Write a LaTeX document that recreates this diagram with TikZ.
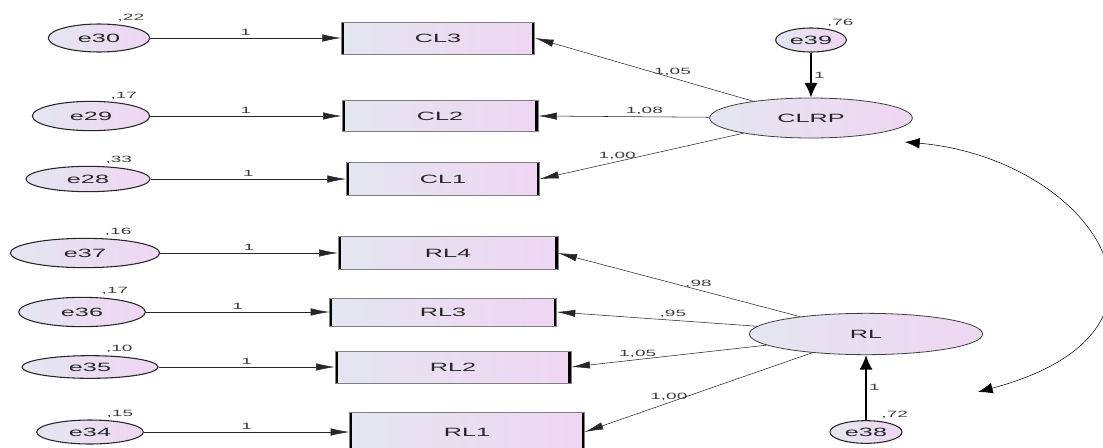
\documentclass[tikz,border=0pt]{standalone}
\usepackage{fontspec}
\newfontfamily\amosfont{Liberation Sans}[FakeStretch=2.1]
\usetikzlibrary{shapes.geometric, arrows.meta}
\definecolor{fillleft}{RGB}{228,230,241}
\definecolor{fillright}{RGB}{239,214,242}
\tikzstyle{errvar} = [ellipse, inner sep=0pt, draw=black!85, thick, left color=fillleft, right color=fillright, text=black!85, font=\amosfont\fontsize{9}{10}\selectfont]
\tikzstyle{latent} = [ellipse, inner sep=0pt, draw=black!75, semithick, left color=fillleft, right color=fillright, text=black!85, font=\amosfont\fontsize{9}{10}\selectfont]
\tikzstyle{observed} = [rectangle, inner sep=0pt, draw=black!50, left color=fillleft, right color=fillright, text=black!85, font=\amosfont\fontsize{9}{10}\selectfont,
    path picture={\draw [black, line width=4pt] (path picture bounding box.north west) -- (path picture bounding box.south west) (path picture bounding box.north east) -- (path picture bounding box.south east);}]
\tikzstyle{arrow} = [draw=black!85, -{Latex[length=14pt,width=5.5pt]}]
\tikzstyle{bigarrow} = [draw=black, line width=1.5pt, -{Latex[length=11pt,width=10pt]}]
\tikzstyle{covar} = [draw=black, {Latex[length=11pt,width=8pt]}-{Latex[length=11pt,width=8pt]}]
\tikzstyle{coef} = [inner sep=1.5pt, text=black!75, font=\amosfont\fontsize{6.8}{7}\selectfont]

\begin{document}
\begin{tikzpicture}[x=0.75pt, y=-0.75pt]
                \useasboundingbox (0,0) rectangle (1103,447);
                % latent factors
                \node (clrp) [latent, minimum width=152pt, minimum height=30pt] at (811,118) {CLRP};
                \node (rl) [latent, minimum width=175pt, minimum height=31pt] at (866,334) {RL};
                \node (e39) [errvar, minimum width=53pt, minimum height=18pt, label={[coef]40:{,76}}] at (811,40) {e39};
                \node (e38) [errvar, minimum width=54pt, minimum height=17pt, label={[coef]40:{,72}}] at (866,432) {e38};
                % indicators
                \node (cl3) [observed, minimum width=145pt, minimum height=24pt] at (438,38) {CL3};
                \node (cl2) [observed, minimum width=147pt, minimum height=23pt] at (440,116) {CL2};
                \node (cl1) [observed, minimum width=145pt, minimum height=25pt] at (443,179) {CL1};
                \node (rl4) [observed, minimum width=165pt, minimum height=25pt] at (448,253) {RL4};
                \node (rl3) [observed, minimum width=170pt, minimum height=21pt] at (443,312) {RL3};
                \node (rl2) [observed, minimum width=177pt, minimum height=24pt] at (453,367) {RL2};
                \node (rl1) [observed, minimum width=176pt, minimum height=30pt] at (467,432) {RL1};
                % error terms
                \node (e30) [errvar, minimum width=76pt, minimum height=21pt, label={[coef]40:{,22}}] at (99,38) {e30};
                \node (e29) [errvar, minimum width=88pt, minimum height=22pt, label={[coef]40:{,17}}] at (91,116) {e29};
                \node (e28) [errvar, minimum width=93pt, minimum height=19pt, label={[coef]40:{,33}}] at (88,179) {e28};
                \node (e37) [errvar, minimum width=112pt, minimum height=22pt, label={[coef]40:{,16}}] at (85,253) {e37};
                \node (e36) [errvar, minimum width=95pt, minimum height=22pt, label={[coef]40:{,17}}] at (82,312) {e36};
                \node (e35) [errvar, minimum width=102pt, minimum height=17pt, label={[coef]40:{,10}}] at (90,367) {e35};
                \node (e34) [errvar, minimum width=80pt, minimum height=18pt, label={[coef]40:{,15}}] at (90,432) {e34};
                \coordinate (cvtop) at (905,142);
                \coordinate (cvbot) at (978,392);

                \draw [arrow] (e30) -- node[coef, above] {1} (cl3);
                \draw [arrow] (e29) -- node[coef, above] {1} (cl2);
                \draw [arrow] (e28) -- node[coef, above] {1} (cl1);
                \draw [arrow] (e37) -- node[coef, above] {1} (rl4);
                \draw [arrow] (e36) -- node[coef, above] {1} (rl3);
                \draw [arrow] (e35) -- node[coef, above] {1} (rl2);
                \draw [arrow] (e34) -- node[coef, above] {1} (rl1);
                \draw [arrow] (clrp) -- node[coef, pos=0.37, above] {1,05} (cl3.east);
                \draw [arrow] (clrp) -- node[coef, pos=0.38, above] {1,08} (cl2.east);
                \draw [arrow] (clrp) -- node[coef, pos=0.62, above] {1,00} (cl1.east);
                \draw [arrow] (rl) -- node[coef, pos=0.42, above] {,98} (rl4.east);
                \draw [arrow] (rl) -- node[coef, pos=0.42, above] {,95} (rl3.east);
                \draw [arrow] (rl) -- node[coef, pos=0.66, above] {1,05} (rl2.east);
                \draw [arrow] (rl) -- node[coef, pos=0.63, above] {1,00} (rl1.east);
                \draw [bigarrow] (e39) -- node[coef, right] {1} (clrp);
                \draw [bigarrow] (e38) -- node[coef, right] {1} (rl);
                \draw [covar] (cvtop) .. controls (1090,158) and (1210,330) .. (cvbot);
            \end{tikzpicture}
\end{document}
